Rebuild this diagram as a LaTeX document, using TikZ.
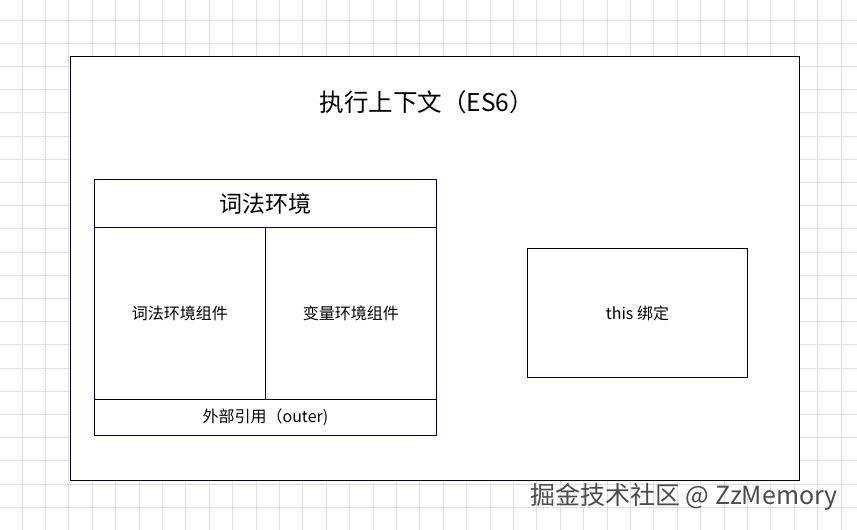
\documentclass[tikz,border=0pt]{standalone}
\usepackage{fontspec}
\setmainfont{Noto Sans CJK SC}
\begin{document}
\begin{tikzpicture}[x=1pt,y=-1pt,
  box/.style={draw=black!85!blue,line width=0.8pt},
  lbl/.style={font=\fontsize{16}{19}\selectfont}]
\useasboundingbox (0,0) rectangle (857,530);
\fill[white] (0,0) rectangle (857,530);
\foreach \i in {0,...,36} \draw[black!12,line width=0.8pt] (22+23.4*\i,0) -- (22+23.4*\i,530);
\foreach \j in {0,...,22} \draw[black!12,line width=0.8pt] (0,20+23.2*\j) -- (857,20+23.2*\j);
\node[box,fill=white,minimum width=729,minimum height=424,anchor=north west] (outer) at (70,56) {};
\node[font=\fontsize{24.5}{28}\selectfont] (title) at (427,102) {执行上下文（ES6）};
\node[box,fill=white,minimum width=342,minimum height=48,anchor=north west,font=\fontsize{23}{26}\selectfont] (lex) at (94,179) {词法环境};
\node[box,minimum width=171,minimum height=172,anchor=north west,lbl] (lc) at (94,227) {词法环境组件};
\node[box,minimum width=171,minimum height=172,anchor=north west,lbl] (vc) at (265,227) {变量环境组件};
\node[box,minimum width=342,minimum height=36,anchor=north west,lbl] (ref) at (94,399) {外部引用（outer)};
\node[box,minimum width=220,minimum height=129,anchor=north west,lbl] (this) at (527,248) {this 绑定};
\node[black!70,font=\fontsize{25}{28}\selectfont] (wm) at (684,497) {掘金技术社区 @ ZzMemory};
\end{tikzpicture}
\end{document}
